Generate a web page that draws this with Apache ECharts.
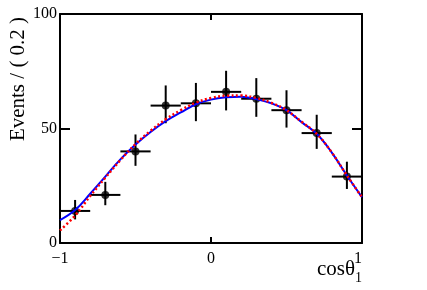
<!DOCTYPE html>
<html>
<head>
<meta charset="utf-8">
<script src="https://cdn.jsdelivr.net/npm/echarts@6/dist/echarts.min.js"></script>
<style>
html,body{margin:0;padding:0;background:#fff;}
#c{width:427px;height:290px;}
</style>
</head>
<body>
<div id="c"></div>
<script>
// ---- data ----
const binCenters = [-0.9, -0.7, -0.5, -0.3, -0.1, 0.1, 0.3, 0.5, 0.7, 0.9];
const binHalfWidth = [0.1, 0.1, 0.1, 0.1, 0.1, 0.1, 0.1, 0.1, 0.1, 0.1];
const counts = [14, 21, 40, 60, 61, 66, 63, 58, 48, 29];
const errLow = [3.7, 4.5, 6.3, 7.7, 7.8, 8.1, 7.9, 7.6, 6.9, 5.4];
const errHigh = [4.8, 5.7, 7.4, 8.8, 8.9, 9.2, 9.0, 8.7, 8.0, 6.5];

const curveX = [-1.0, -0.9, -0.8, -0.7, -0.6, -0.5, -0.4, -0.3, -0.2, -0.1, 0.0,
                0.1, 0.2, 0.3, 0.4, 0.5, 0.6, 0.7, 0.8, 0.9, 1.0];
const fitBlue = [10.0, 14.4, 21.5, 29.0, 36.5, 43.0, 48.5, 53.2, 57.0, 60.6, 62.6,
                 63.6, 63.9, 62.8, 61.0, 58.0, 52.8, 47.7, 39.5, 29.5, 20.0];
const fitRed = [5.5, 12.0, 20.5, 28.5, 36.2, 43.2, 49.0, 54.0, 58.0, 61.3, 63.3,
                64.3, 64.4, 63.3, 61.2, 58.0, 52.9, 47.7, 39.5, 29.5, 20.0];

const xTicks = [-1, 0, 1];
const yTicks = [0, 50, 100];
const yTitle = 'Events / ( 0.2 )';
const xTitleMain = 'cosθ';
const xTitleSub = '1';

// ---- chart ----
const FONT = '"Liberation Serif", "DejaVu Serif", serif';
const chart = echarts.init(document.getElementById('c'), null, {renderer: 'canvas'});

const errData = binCenters.map((x, i) => [x, counts[i], x - binHalfWidth[i], x + binHalfWidth[i], counts[i] - errLow[i], counts[i] + errHigh[i]]);

const fmtX = v => (v < 0 ? '\u2212' + (-v) : String(v));

const axisBase = {
  type: 'value',
  axisLine: {show: true, onZero: false, lineStyle: {color: '#000', width: 2}},
  splitLine: {show: false},
  minorTick: {show: false}
};

const option = {
  animation: false,
  backgroundColor: '#fff',
  grid: {left: 60, right: 65, top: 14, bottom: 47},
  xAxis: [
    Object.assign({}, axisBase, {
      position: 'bottom',
      min: xTicks[0], max: xTicks[xTicks.length - 1], interval: xTicks[1] - xTicks[0],
      axisTick: {inside: true, length: 6, lineStyle: {color: '#000', width: 2}},
      axisLabel: {color: '#000', fontFamily: FONT, fontSize: 16, margin: 8, formatter: fmtX, alignMaxLabel: 'right'}
    }),
    Object.assign({}, axisBase, {
      position: 'top',
      min: xTicks[0], max: xTicks[xTicks.length - 1], interval: xTicks[1] - xTicks[0],
      axisTick: {inside: true, length: 6, lineStyle: {color: '#000', width: 2}},
      axisLabel: {show: false}
    })
  ],
  yAxis: [
    Object.assign({}, axisBase, {
      position: 'left',
      min: yTicks[0], max: yTicks[yTicks.length - 1], interval: yTicks[1] - yTicks[0],
      axisTick: {inside: true, length: 10, lineStyle: {color: '#000', width: 2}},
      axisLabel: {color: '#000', fontFamily: FONT, fontSize: 16, margin: 3}
    }),
    Object.assign({}, axisBase, {
      position: 'right',
      min: yTicks[0], max: yTicks[yTicks.length - 1], interval: yTicks[1] - yTicks[0],
      axisTick: {inside: true, length: 10, lineStyle: {color: '#000', width: 2}},
      axisLabel: {show: false}
    })
  ],
  graphic: [
    {
      type: 'text',
      x: 18, y: 79,
      rotation: Math.PI / 2,
      style: {text: yTitle, font: '21px ' + FONT, fill: '#000', align: 'center', verticalAlign: 'middle'}
    },
    {
      type: 'text',
      x: 362, y: 259,
      style: {
        text: '{a|' + xTitleMain + '}{s|' + xTitleSub + '}',
        align: 'right', verticalAlign: 'top',
        rich: {
          a: {fontFamily: FONT, fontSize: 21, fill: '#000', lineHeight: 22, verticalAlign: 'top'},
          s: {fontFamily: FONT, fontSize: 14, fill: '#000', lineHeight: 14, verticalAlign: 'top', padding: [12, 0, 0, 0]}
        }
      }
    }
  ],
  series: [
    {
      type: 'custom',
      xAxisIndex: 0, yAxisIndex: 0,
      z: 2,
      data: errData,
      renderItem: function (params, api) {
        const x = api.value(0), y = api.value(1);
        const pL = api.coord([api.value(2), y]);
        const pR = api.coord([api.value(3), y]);
        const pB = api.coord([x, api.value(4)]);
        const pT = api.coord([x, api.value(5)]);
        const st = {stroke: '#000', lineWidth: 2};
        return {
          type: 'group',
          children: [
            {type: 'line', shape: {x1: pL[0], y1: pL[1], x2: pR[0], y2: pR[1]}, style: st},
            {type: 'line', shape: {x1: pB[0], y1: pB[1], x2: pT[0], y2: pT[1]}, style: st}
          ]
        };
      }
    },
    {
      type: 'scatter',
      xAxisIndex: 0, yAxisIndex: 0,
      z: 3,
      symbol: 'circle',
      symbolSize: 8,
      itemStyle: {color: '#000'},
      data: binCenters.map((x, i) => [x, counts[i]])
    },
    {
      type: 'line',
      xAxisIndex: 0, yAxisIndex: 0,
      z: 4,
      smooth: 0.4,
      showSymbol: false,
      lineStyle: {color: '#0000ff', width: 2},
      data: curveX.map((x, i) => [x, fitBlue[i]])
    },
    {
      type: 'line',
      xAxisIndex: 0, yAxisIndex: 0,
      z: 5,
      smooth: 0.4,
      showSymbol: false,
      lineStyle: {color: '#ff0000', width: 2.5, type: [2, 2.5]},
      data: curveX.map((x, i) => [x, fitRed[i]])
    }
  ]
};
chart.setOption(option);
</script>
</body>
</html>
